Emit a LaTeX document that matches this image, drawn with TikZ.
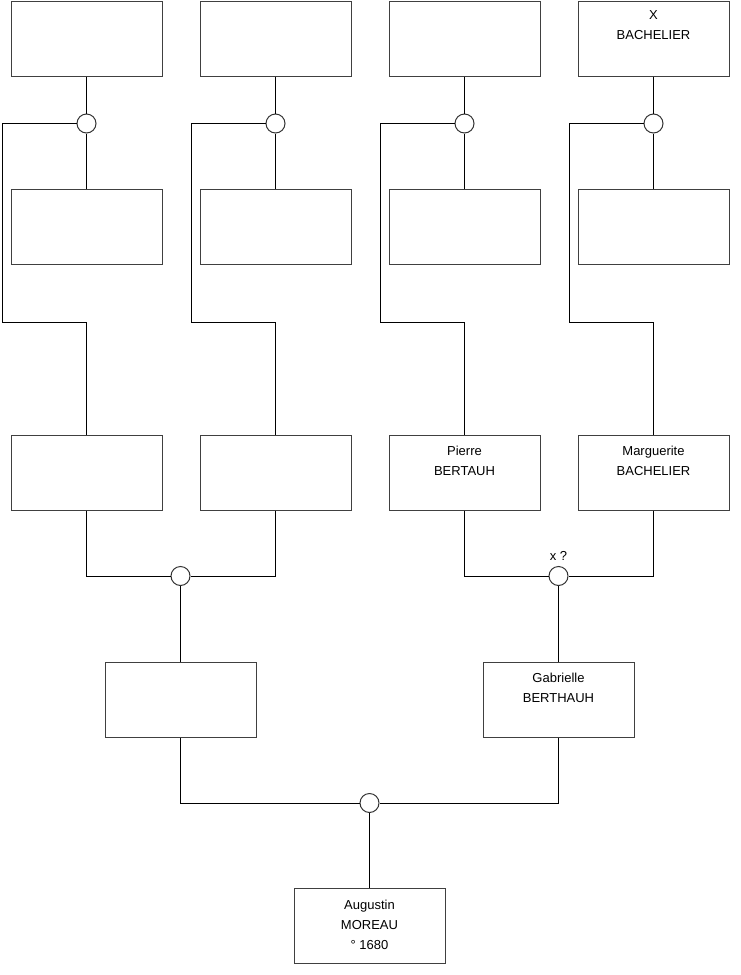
\documentclass[tikz,border=0pt]{standalone}
\usepackage{fontspec}
\setmainfont{Liberation Sans}
\usetikzlibrary{positioning}

\begin{document}
\begin{tikzpicture}[x=1pt,y=-1pt,
  person/.style={draw=black!75,line width=1pt,minimum width=151pt,minimum height=75pt,inner sep=0pt},
  union/.style={circle,draw=black!80,fill=white,line width=1pt,minimum size=19pt,inner sep=0pt},
  pname/.style={align=center,inner sep=0pt,font=\fontsize{13}{20}\selectfont},
  link/.style={black,line width=1pt}]
\useasboundingbox (0,0) rectangle (740,975);

% grandparents' parents
\node[person] (A1) at (86.5,38.5) {};
\node[person] (A2) at (275.5,38.5) {};
\node[person] (A3) at (464.5,38.5) {};
\node[person] (A4) at (653.5,38.5) {};
\node[pname,below=10pt of A4.north] {X\\BACHELIER};

\node[person] (B1) at (86.5,227) {};
\node[person] (B2) at (275.5,227) {};
\node[person] (B3) at (464.5,227) {};
\node[person] (B4) at (653.5,227) {};

\node[union] (a1) at (86.5,123.5) {};
\node[union] (a2) at (275.5,123.5) {};
\node[union] (a3) at (464.5,123.5) {};
\node[union] (a4) at (653.5,123.5) {};

% grandparents
\node[person] (C1) at (86.5,472.5) {};
\node[person] (C2) at (275.5,472.5) {};
\node[person] (C3) at (464.5,472.5) {};
\node[pname,below=11pt of C3.north] {Pierre\\BERTAUH};
\node[person] (C4) at (653.5,472.5) {};
\node[pname,below=11pt of C4.north] {Marguerite\\BACHELIER};

\coordinate (k1) at (2,322);
\coordinate (k2) at (191,322);
\coordinate (k3) at (380,322);
\coordinate (k4) at (569,322);

\foreach \i in {1,2,3,4}{
  \draw[link] (A\i.south) -- (a\i.north);
  \draw[link] (a\i.south) -- (B\i.north);
  \draw[link] (a\i.west) -| (k\i) -| (C\i.north);
}

% parents
\node[union] (c1) at (180.5,576) {};
\node[union] (c2) at (558.5,576) {};
\node[pname,above=5pt of c2] {x ?};
\draw[link] (C1.south) |- (c1.west);
\draw[link] (C2.south) |- (c1.east);
\draw[link] (C3.south) |- (c2.west);
\draw[link] (C4.south) |- (c2.east);

\node[person] (D1) at (180.5,699.5) {};
\node[person] (D2) at (558.5,699.5) {};
\node[pname,below=11pt of D2.north] {Gabrielle\\BERTHAUH};
\draw[link] (c1.south) -- (D1.north);
\draw[link] (c2.south) -- (D2.north);

% child
\node[union] (d) at (369.5,803) {};
\draw[link] (D1.south) |- (d.west);
\draw[link] (D2.south) |- (d.east);

\node[person] (E) at (369.5,926) {};
\node[pname,below=12pt of E.north] {Augustin\\MOREAU\\° 1680};
\draw[link] (d.south) -- (E.north);
\end{tikzpicture}
\end{document}
